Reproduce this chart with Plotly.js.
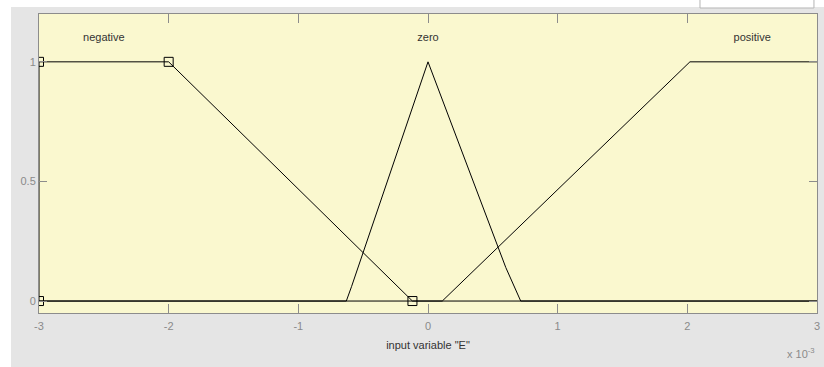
<!DOCTYPE html>
<html>
<head>
<meta charset="utf-8">
<script src="https://cdn.plot.ly/plotly-3.0.1.min.js"></script>
<style>html,body{margin:0;padding:0;background:#fff;}#chart{width:824px;height:367px;}</style>
</head>
<body>
<div id="chart"></div>
<script>
// Membership functions of input variable "E" (x in units of 1e-3)
const negativeX = [-3, -3, -2, -0.12, 3];
const negativeY = [0, 1, 1, 0, 0];
const negativeMarkX = [-3, -3, -2, -0.12];
const negativeMarkY = [0, 1, 1, 0];

const zeroX = [-3, -0.63, -0.59, 0, 0.6, 0.715, 3];
const zeroY = [0, 0, 0.06, 1, 0.14, 0, 0];

const positiveX = [-3, 0.11, 2.02, 3];
const positiveY = [0, 0, 1, 1];

const mfNames = ["negative", "zero", "positive"];
const mfLabelX = [-2.5, 0, 2.5];
const mfLabelY = [1.1, 1.1, 1.1];

const xTickVals = [-3, -2, -1, 0, 1, 2, 3];
const xTickText = ["-3", "-2", "-1", "0", "1", "2", "3"];
const yTickVals = [0, 0.5, 1];
const yTickText = ["0", "0.5", "1"];

const lineStyle = {color: "#000", width: 1};
const FONT = "Liberation Sans, Arial, sans-serif";

const traces = [
  {x: negativeX, y: negativeY, mode: "lines", line: lineStyle, hoverinfo: "skip"},
  {x: zeroX, y: zeroY, mode: "lines", line: lineStyle, hoverinfo: "skip"},
  {x: positiveX, y: positiveY, mode: "lines", line: lineStyle, hoverinfo: "skip"},
  {x: negativeMarkX, y: negativeMarkY, mode: "markers", cliponaxis: true,
   marker: {symbol: "square-open", size: 9, color: "#000", line: {width: 1}}, hoverinfo: "skip"},
  {x: mfLabelX, y: mfLabelY, mode: "text", text: mfNames, textposition: "middle center",
   textfont: {family: FONT, size: 11, color: "#333"}, hoverinfo: "skip"}
];

const axisCommon = {
  showline: true, mirror: "ticks", linecolor: "#8c8c8c", linewidth: 1,
  ticks: "inside", tickcolor: "#8c8c8c", showgrid: false, zeroline: false,
  tickfont: {family: FONT, size: 11, color: "#8a8a8a"}
};

const layout = {
  width: 824, height: 367,
  margin: {l: 39, r: 7, t: 14, b: 54},
  paper_bgcolor: "#e5e5e5",
  plot_bgcolor: "#faf8cf",
  showlegend: false,
  xaxis: Object.assign({}, axisCommon, {
    range: [-3, 3], tickmode: "array", tickvals: xTickVals, ticktext: xTickText,
    ticklen: 9, ticklabelstandoff: 3,
    title: {text: 'input variable "E"', standoff: 10,
      font: {family: FONT, size: 11, color: "#333"}}
  }),
  yaxis: Object.assign({}, axisCommon, {
    range: [-0.05, 1.2], tickmode: "array", tickvals: yTickVals, ticktext: yTickText,
    ticklen: 8
  }),
  shapes: [
    // white strips outside the gray figure panel (left and top)
    {type: "rect", xref: "paper", yref: "paper", x0: -0.06, x1: -0.036, y0: -0.2, y1: 1.06,
     fillcolor: "#ffffff", line: {width: 0}, layer: "below"},
    {type: "rect", xref: "paper", yref: "paper", x0: -0.06, x1: 1.02, y0: 1.0234, y1: 1.06,
     fillcolor: "#ffffff", line: {width: 0}, layer: "below"},
    // small white box at top right
    {type: "rect", xref: "paper", yref: "paper", x0: 0.8496, x1: 0.9961, y0: 1.0201, y1: 1.07,
     fillcolor: "#ffffff", line: {color: "#b5b5b5", width: 1}, layer: "below"}
  ],
  annotations: [
    {xref: "paper", yref: "paper", x: 1.0, y: -0.105, xanchor: "right", yanchor: "top",
     text: "x 10<sup>-3</sup>", showarrow: false,
     font: {family: FONT, size: 11, color: "#8a8a8a"}}
  ]
};

Plotly.newPlot("chart", traces, layout, {staticPlot: true, displayModeBar: false});
</script>
</body>
</html>
